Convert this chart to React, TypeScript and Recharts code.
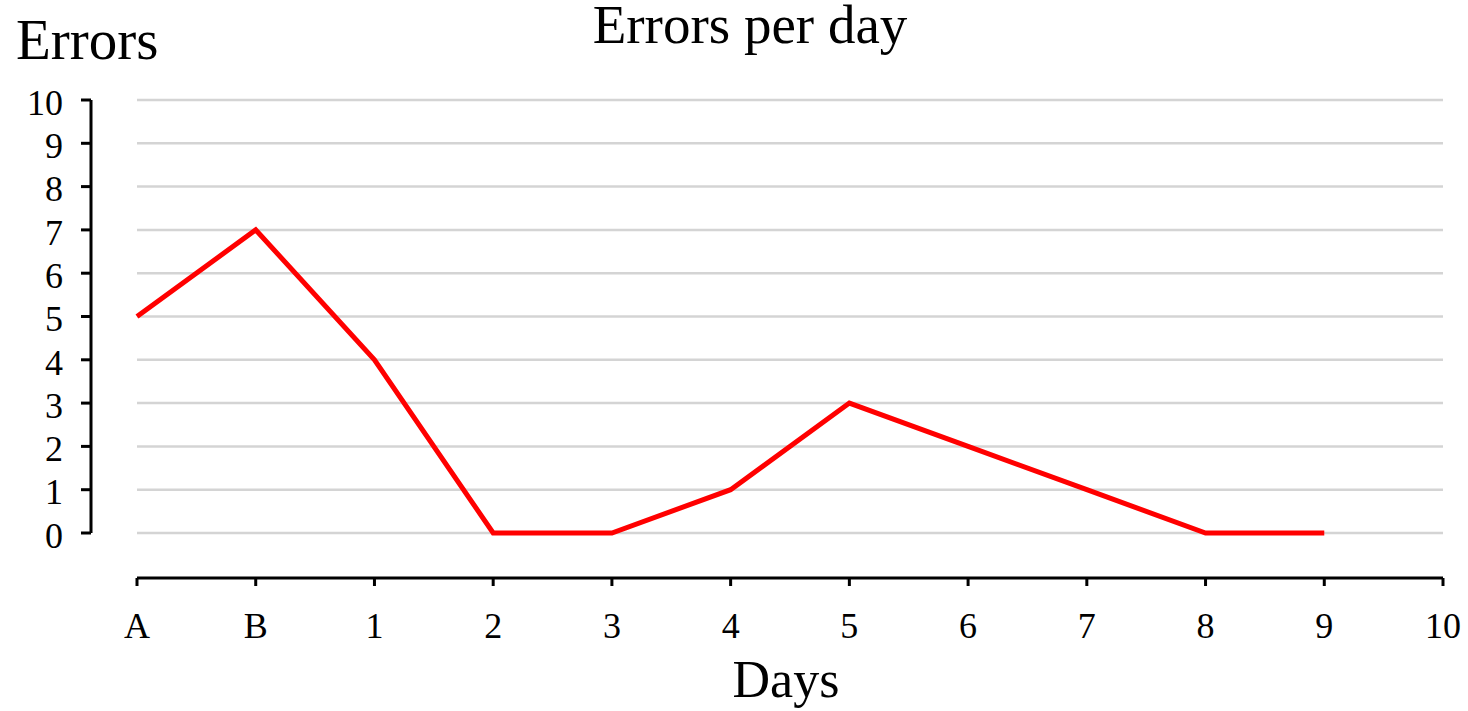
import { LineChart, Line, XAxis, YAxis, CartesianGrid } from "recharts";

const days = ["A", "B", "1", "2", "3", "4", "5", "6", "7", "8", "9", "10"];
const errors: (number | null)[] = [5, 7, 4, 0, 0, 1, 3, 2, 1, 0, 0, null];
const yTicks = [0, 1, 2, 3, 4, 5, 6, 7, 8, 9, 10];

const chartData = days.map((day, i) => ({ day, errors: errors[i] }));

const serif = "'Liberation Serif', 'Times New Roman', serif";
const tickStyle = { fontSize: 36, fill: "#000", fontFamily: serif };
const axisStroke = { stroke: "#000", strokeWidth: 3 };

// the axes are detached from the plot area; labels live in another layer,
// so their margins carry the same offset
const Y_SHIFT = 46;
const X_SHIFT = 45;

export default function App() {
  return (
    <div style={{ position: "absolute", left: 0, top: 0, width: 1468, height: 711, background: "#fff", fontFamily: serif, color: "#000" }}>
      <style>{`
        .recharts-yAxis { transform: translate(-${Y_SHIFT}px, 0px); }
        .recharts-xAxis { transform: translate(0px, ${X_SHIFT}px); }
      `}</style>
      <div style={{ position: "absolute", left: 750, top: 0, transform: "translateX(-50%)", fontSize: 55, lineHeight: 0.9, whiteSpace: "nowrap" }}>
        Errors per day
      </div>
      <div style={{ position: "absolute", left: 16, top: 11, fontSize: 57, lineHeight: 1, whiteSpace: "nowrap" }}>
        Errors
      </div>
      <div style={{ position: "absolute", left: 786, top: 654, transform: "translateX(-50%)", fontSize: 52, lineHeight: 1, whiteSpace: "nowrap" }}>
        Days
      </div>
      <LineChart width={1468} height={711} data={chartData} margin={{ top: 100, right: 25, left: 77, bottom: 118 }}>
        <CartesianGrid vertical={false} stroke="#d4d4d4" strokeWidth={2.5} />
        <XAxis
          dataKey="day"
          height={60}
          tick={tickStyle}
          tickSize={8}
          tickMargin={26 + X_SHIFT}
          tickLine={axisStroke}
          axisLine={axisStroke}
          interval={0}
        />
        <YAxis
          type="number"
          domain={[0, 10]}
          ticks={yTicks}
          width={60}
          tick={{ ...tickStyle, dy: 2 }}
          tickSize={10}
          tickMargin={18 + Y_SHIFT}
          tickLine={axisStroke}
          axisLine={axisStroke}
          interval={0}
        />
        <Line
          type="linear"
          dataKey="errors"
          stroke="#ff0000"
          strokeWidth={5}
          dot={false}
          activeDot={false}
          connectNulls={false}
          isAnimationActive={false}
        />
      </LineChart>
    </div>
  );
}
